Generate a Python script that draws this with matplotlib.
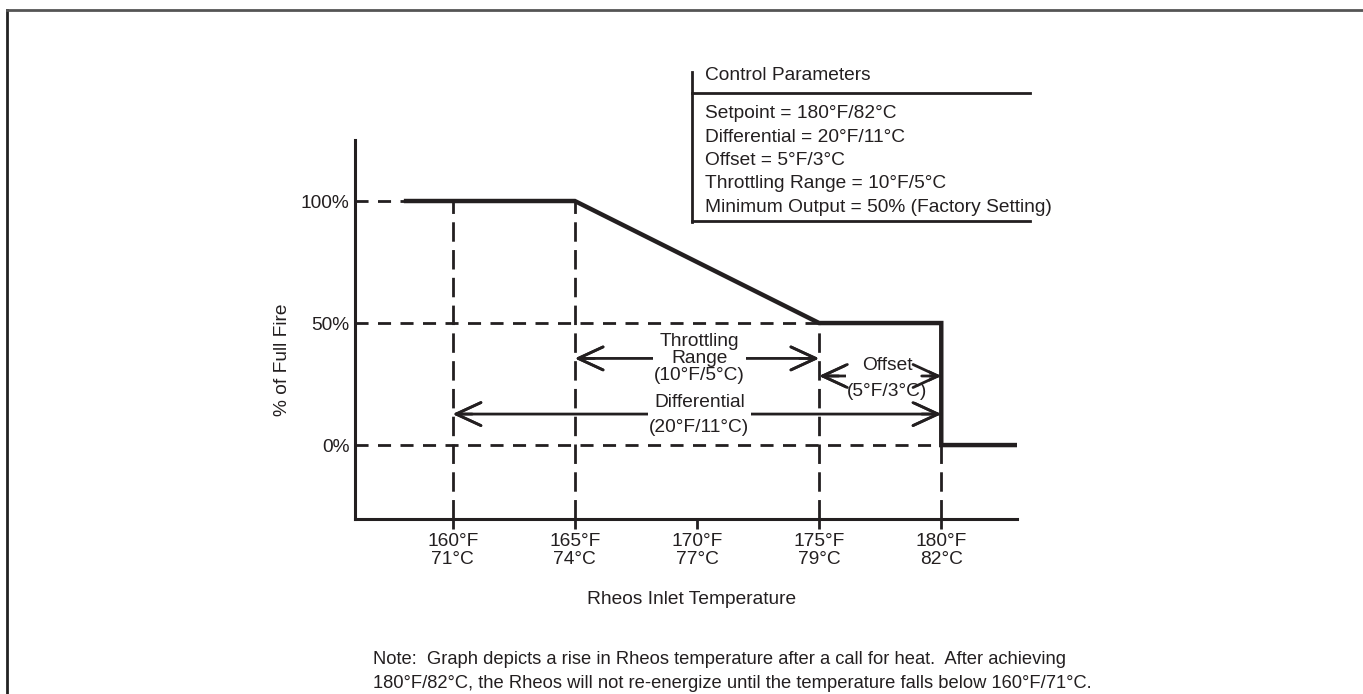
import matplotlib
matplotlib.use('Agg')
import matplotlib.pyplot as plt
from matplotlib.lines import Line2D

plt.rcParams['font.family'] = ['Liberation Sans', 'DejaVu Sans']
plt.rcParams['font.size'] = 13.8

# curve: % of full fire vs inlet temperature (F)
temp_f = [158.0, 165, 175, 180, 180, 183.1]
fire = [100, 100, 50, 50, 0, 0]

tick_f = [160, 165, 170, 175, 180]
tick_labels = ['160°F\n71°C', '165°F\n74°C', '170°F\n77°C', '175°F\n79°C', '180°F\n82°C']
y_ticks = [0, 50, 100]
y_labels = ['0%', '50%', '100%']

# (level, x end) for the horizontal dashed guides
h_guides = [(100, 158.0), (50, 175), (0, 180)]
# (x, top level) for the vertical dashed guides
v_guides = [(160, 100), (165, 100), (175, 50), (180, 0)]

# annotation spans: (x0, x1, y)
spans = [(165, 175, 35.5), (175, 180, 28.3), (160, 180, 12.7)]
span_text = ['Throttling\nRange\n(10°F/5°C)', 'Offset\n(5°F/3°C)', 'Differential\n(20°F/11°C)']
span_text_x = [170.1, 177.8, 170.1]
span_text_y = [35.3, 27.3, 12.3]
span_spacing = [1.0, 1.75, 1.6]

params = ['Setpoint = 180°F/82°C', 'Differential = 20°F/11°C', 'Offset = 5°F/3°C',
          'Throttling Range = 10°F/5°C', 'Minimum Output = 50% (Factory Setting)']

xmin, xmax = 156.0, 183.1
ymin, ymax = -30.3, 125

ink = '#231f20'
head = 'head_length=1.3,head_width=0.6'

fig = plt.figure(figsize=(13.63, 6.94), dpi=100)
ax = fig.add_axes([355 / 1363, 1 - 519 / 694, (1017 - 355) / 1363, (519 - 140) / 694])
ax.set_xlim(xmin, xmax)
ax.set_ylim(ymin, ymax)

for lvl, xe in h_guides:
    ax.plot([xmin, xe], [lvl, lvl], color=ink, lw=2, linestyle=(0, (4.7, 3.4)))
for xv, top in v_guides:
    ax.plot([xv, xv], [ymin, top], color=ink, lw=2, linestyle=(0, (7.0, 3.0)))

ax.plot(temp_f, fire, color=ink, lw=3.2, solid_joinstyle='miter', solid_capstyle='butt')

for (x0, x1, yy), txt, tx, ty, ls in zip(spans, span_text, span_text_x, span_text_y, span_spacing):
    # full double arrow under the label
    ax.annotate('', xy=(x1, yy), xytext=(x0, yy),
                arrowprops=dict(arrowstyle='<->,' + head, color=ink, lw=2,
                                shrinkA=0, shrinkB=0), zorder=4)
    ax.text(tx, ty, txt, ha='center', va='center', color=ink, linespacing=ls,
            bbox=dict(facecolor='white', edgecolor='none', pad=1.0), zorder=5)
    # heads again on top so a label never hides them
    for a, b in [(x0 + 0.8, x0), (x1 - 0.8, x1)]:
        ax.annotate('', xy=(b, yy), xytext=(a, yy),
                    arrowprops=dict(arrowstyle='->,' + head, color=ink, lw=2,
                                    shrinkA=0, shrinkB=0), zorder=6)

for s in ['top', 'right']:
    ax.spines[s].set_visible(False)
for s in ['left', 'bottom']:
    ax.spines[s].set_linewidth(2.2)
    ax.spines[s].set_color(ink)

ax.set_xticks(tick_f)
ax.set_xticklabels(tick_labels, linespacing=1.08)
ax.tick_params(axis='x', direction='out', length=7, width=2, color=ink, pad=3,
               labelcolor=ink)
ax.set_yticks(y_ticks)
ax.set_yticklabels(y_labels)
ax.tick_params(axis='y', length=0, pad=4, labelcolor=ink)
ax.set_xlabel('Rheos Inlet Temperature', color=ink, va='center')
ax.xaxis.set_label_coords(0.509, (519 - 599) / 379)
ax.set_ylabel('% of Full Fire', color=ink, va='center')
ax.yaxis.set_label_coords(-0.1088, 0.4195)

# outer frame (top and left edges)
fig.add_artist(Line2D([7 / 1363, 7 / 1363], [0, 1 - 10 / 694], transform=fig.transFigure,
                      color='#222222', lw=2))
fig.add_artist(Line2D([7 / 1363, 1], [1 - 10 / 694, 1 - 10 / 694], transform=fig.transFigure,
                      color='#555555', lw=2))


def fy(p):
    return 1 - p / 694


# control parameters box
bx0, bx1 = 692 / 1363, 1030 / 1363
fig.add_artist(Line2D([bx0, bx0], [fy(72), fy(222)], transform=fig.transFigure, color=ink, lw=2))
fig.add_artist(Line2D([bx0, bx1], [fy(93), fy(93)], transform=fig.transFigure, color=ink, lw=2))
fig.add_artist(Line2D([bx0, bx1], [fy(221), fy(221)], transform=fig.transFigure, color=ink, lw=2))
fig.text(705 / 1363, fy(76), 'Control Parameters', ha='left', va='center', color=ink)
for i, p in enumerate(params):
    fig.text(705 / 1363, fy(114 + i * 23.3), p, ha='left', va='center', color=ink)

fig.text(373 / 1363, fy(659), 'Note:  Graph depicts a rise in Rheos temperature after a call for heat.  '
         'After achieving', ha='left', va='center', fontsize=13.2, color=ink)
fig.text(373 / 1363, fy(683), '180°F/82°C, the Rheos will not re-energize until the temperature '
         'falls below 160°F/71°C.', ha='left', va='center', fontsize=13.2, color=ink)

fig.savefig('out.png', dpi=100, facecolor='white')
